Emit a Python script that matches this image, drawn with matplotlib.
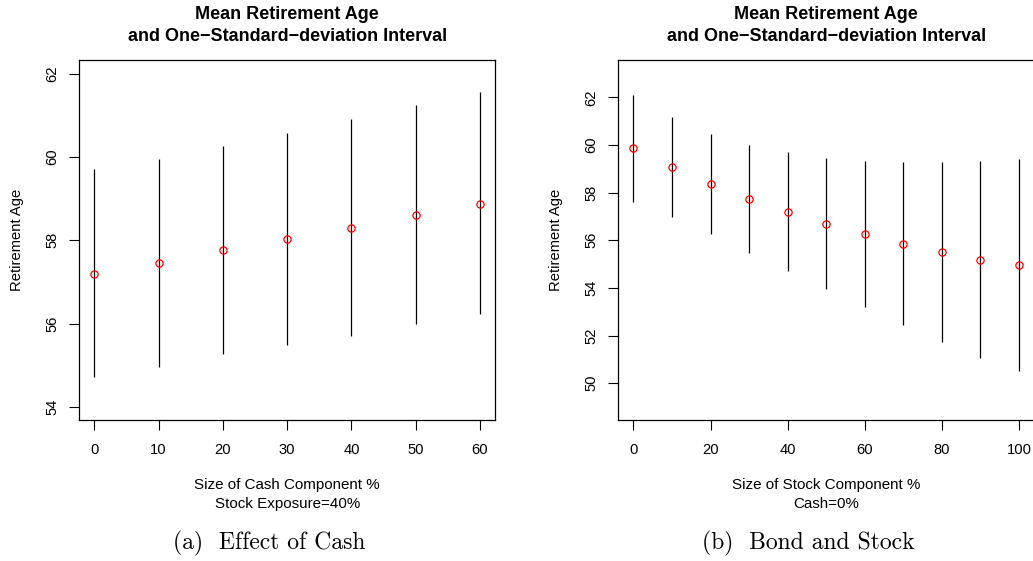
import matplotlib
matplotlib.use("Agg")
import matplotlib.pyplot as plt

plt.rcParams['font.family'] = ['Liberation Sans', 'DejaVu Sans']

# (a) effect of cash, stock exposure 40%
cash_pct = [0, 10, 20, 30, 40, 50, 60]
cash_mean = [57.20, 57.46, 57.76, 58.02, 58.30, 58.61, 58.88]
cash_upper = [59.70, 59.96, 60.27, 60.57, 60.92, 61.24, 61.55]
cash_lower = [54.71, 54.97, 55.26, 55.49, 55.70, 55.99, 56.22]

# (b) bond and stock, cash 0%
stock_pct = [0, 10, 20, 30, 40, 50, 60, 70, 80, 90, 100]
stock_mean = [59.86, 59.08, 58.37, 57.74, 57.20, 56.70, 56.25, 55.86, 55.50, 55.19, 54.95]
stock_upper = [62.09, 61.18, 60.46, 60.00, 59.71, 59.45, 59.31, 59.29, 59.27, 59.34, 59.41]
stock_lower = [57.62, 56.96, 56.27, 55.47, 54.69, 53.94, 53.19, 52.44, 51.74, 51.05, 50.49]

W, H = 1033, 561
fig = plt.figure(figsize=(W / 100, H / 100), dpi=100)

def px_axes(x0, x1, y0, y1):
    return fig.add_axes([x0 / W, 1 - y1 / H, (x1 - x0) / W, (y1 - y0) / H])

ax1 = px_axes(79, 495.3, 60.3, 420.3)
ax2 = px_axes(618, 1034.4, 60.3, 420.3)

panels = [
    (ax1, cash_pct, cash_mean, cash_upper, cash_lower, (54, 62), [0, 10, 20, 30, 40, 50, 60],
     [54, 56, 58, 60, 62], "Size of Cash Component %\nStock Exposure=40%"),
    (ax2, stock_pct, stock_mean, stock_upper, stock_lower, (49, 63), [0, 20, 40, 60, 80, 100],
     [50, 52, 54, 56, 58, 60, 62], "Size of Stock Component %\nCash=0%"),
]

for ax, x, m, up, lo, ylim, xt, yt, xlab in panels:
    ax.vlines(x, lo, up, colors='black', linewidth=0.9)
    ax.plot(x, m, 'o', mfc='none', mec='red', ms=5.2, mew=0.9)
    xr = max(x) - min(x)
    ax.set_xlim(min(x) - 0.04 * xr, max(x) + 0.04 * xr)
    yr = ylim[1] - ylim[0]
    ax.set_ylim(ylim[0] - 0.04 * yr, ylim[1] + 0.04 * yr)
    ax.set_xticks(xt)
    ax.set_yticks(yt)
    ax.set_yticklabels([str(v) for v in yt], rotation=90, va='center')
    ax.tick_params(length=7, width=0.8, labelsize=10.6, direction='out')
    ax.tick_params(axis='x', pad=9.5)
    ax.tick_params(axis='y', pad=7)
    for s in ax.spines.values():
        s.set_linewidth(0.9)
    ax.set_title("Mean Retirement Age\nand One\u2212Standard\u2212deviation Interval",
                 fontsize=13, fontweight='bold', linespacing=1.4, pad=14)
    ax.set_xlabel(xlab, fontsize=10.9, linespacing=1.49, labelpad=15)
    ax.set_ylabel("Retirement Age", fontsize=10.6)
    ax.yaxis.label.set_va('center')

ax1.yaxis.set_label_coords(-62 / 416.3, 0.5)
ax2.yaxis.set_label_coords(-62.4 / 416.4, 0.5)

fig.text(268.7 / W, 1 - 543.3 / H, "(a)  Effect of Cash", family='cmr10',
         fontsize=17, ha='center', va='center')
fig.text(808 / W, 1 - 543.3 / H, "(b)  Bond and Stock", family='cmr10',
         fontsize=17, ha='center', va='center')

fig.savefig("out.png", dpi=100)
